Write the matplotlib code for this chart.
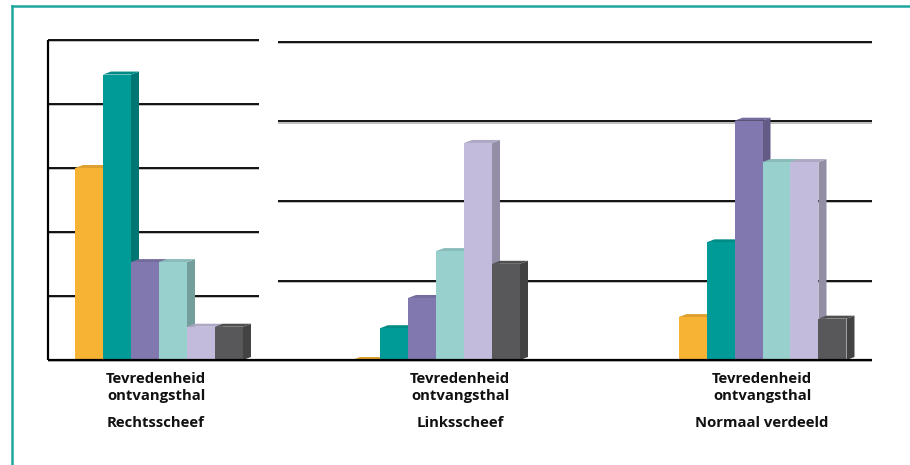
import matplotlib
matplotlib.use("Agg")
import matplotlib.pyplot as plt
from matplotlib.patches import Polygon
from matplotlib.lines import Line2D
import matplotlib.patheffects as pe
import matplotlib.colors as mcolors
import matplotlib.transforms as mtransforms

# ---- data ----------------------------------------------------------------
series_colors = ["#F7B334", "#009B96", "#8278B0", "#97D0CD", "#C2BBDB", "#58585A"]

left_category = "Tevredenheid\nontvangsthal"
left_subtitle = "Rechtsscheef"
left_values = [30.0, 44.6, 15.3, 15.3, 5.2, 5.2]

right_categories = ["Tevredenheid\nontvangsthal", "Tevredenheid\nontvangsthal"]
right_subtitles = ["Linksscheef", "Normaal verdeeld"]
linksscheef_values = [0.0, 4.0, 7.8, 13.7, 27.3, 12.1]
normaal_values = [5.4, 14.8, 30.1, 24.9, 24.9, 5.2]

left_ticks = [0, 10, 20, 30, 40, 50]
right_ticks = [0, 10, 20, 30, 40]

# ---- layout --------------------------------------------------------------
W, H = 910, 465
DPI = 100
PX_PER_UNIT = 326.5          # horizontal pixels per category step
GROUP_W = 0.5145             # width of one group of six bars (data units)
BAR_W = GROUP_W / 6
DEPTH_DX, DEPTH_DY = 8, 3    # 3-D depth offset in pixels

fig = plt.figure(figsize=(W / DPI, H / DPI), dpi=DPI)
fig.patch.set_facecolor("white")


def px_axes(x0, y0, x1, y1):
    """Axes box given in pixel coordinates measured from top-left."""
    return fig.add_axes([x0 / W, (H - y1) / H, (x1 - x0) / W, (y1 - y0) / H])


def shade(c, f):
    r, g, b = mcolors.to_rgb(c)
    return (r * f, g * f, b * f)


def draw_group(ax, center, values, ymax, ax_h_px, z0=3):
    dx = DEPTH_DX / PX_PER_UNIT
    dy = DEPTH_DY * ymax / ax_h_px
    start = center - GROUP_W / 2
    z = z0
    for i, (v, c) in enumerate(zip(values, series_colors)):
        x0 = start + i * BAR_W
        x1 = x0 + BAR_W
        side = Polygon([(x1, 0), (x1 + dx, dy), (x1 + dx, v + dy), (x1, v)],
                       closed=True, facecolor=shade(c, 0.76), edgecolor="none",
                       zorder=z)
        top = Polygon([(x0, v), (x0 + dx, v + dy), (x1 + dx, v + dy), (x1, v)],
                      closed=True, facecolor=shade(c, 0.9), edgecolor="none",
                      zorder=z)
        ax.add_patch(side)
        ax.add_patch(top)
        ax.bar([x0], [v], width=BAR_W, align="edge", color=c,
               edgecolor="none", zorder=z + 0.5)
        z += 1


grid_fx = [pe.SimpleLineShadow(offset=(0, -1.0), shadow_color="#a8a8a8",
                               alpha=0.8, linewidth=1.3), pe.Normal()]


def style_axes(ax):
    ax.set_facecolor("none")
    for s in ax.spines.values():
        s.set_visible(False)
    ax.set_xticks([])
    ax.set_yticks([])


label_font = dict(family=["Open Sans", "DejaVu Sans"], fontweight="bold",
                  fontsize=10.7, color="#111111")


def put_labels(ax, x, cat, sub):
    tr = mtransforms.blended_transform_factory(ax.transData, fig.transFigure)
    lines = cat.split("\n")
    ax.text(x, 1 - 383 / H, lines[0], transform=tr, ha="center",
            va="baseline", clip_on=False, **label_font)
    ax.text(x, 1 - 399.5 / H, lines[1], transform=tr, ha="center",
            va="baseline", clip_on=False, **label_font)
    ax.text(x, 1 - 427 / H, sub, transform=tr, ha="center",
            va="baseline", clip_on=False, **label_font)


GRID_LW = 1.3

# ---- left chart ------------------------------------------------------------
axL = px_axes(48, 40, 278, 360)
style_axes(axL)
L_center_px = 159
axL.set_xlim(-(L_center_px - 48) / PX_PER_UNIT, (278 - L_center_px) / PX_PER_UNIT)
axL.set_ylim(left_ticks[0], left_ticks[-1])
grid_end = (259 - L_center_px) / PX_PER_UNIT
for t in left_ticks[1:]:
    axL.plot([axL.get_xlim()[0], grid_end], [t, t], color="black", lw=GRID_LW,
             solid_capstyle="butt", zorder=1, clip_on=False, path_effects=grid_fx)
axL.plot([axL.get_xlim()[0], axL.get_xlim()[1]], [0, 0], color="black", lw=1.6,
         solid_capstyle="butt", zorder=20, clip_on=False, path_effects=grid_fx)
axL.plot([axL.get_xlim()[0]] * 2, [0, left_ticks[-1]], color="black", lw=1.6,
         solid_capstyle="butt", zorder=20, clip_on=False)
draw_group(axL, 0.0, left_values, left_ticks[-1], 320)
put_labels(axL, (156 - L_center_px) / PX_PER_UNIT, left_category, left_subtitle)

# ---- right chart -----------------------------------------------------------
axR = px_axes(278, 42, 872, 360)
style_axes(axR)
R_center_px = 436
axR.set_xlim(-(R_center_px - 278) / PX_PER_UNIT,
             1 + (872 - (R_center_px + PX_PER_UNIT)) / PX_PER_UNIT)
axR.set_ylim(right_ticks[0], right_ticks[-1])
for t in right_ticks[1:]:
    axR.plot(axR.get_xlim(), [t, t], color="black", lw=GRID_LW,
             solid_capstyle="butt", zorder=1, clip_on=False, path_effects=grid_fx)
axR.plot(axR.get_xlim(), [0, 0], color="black", lw=1.6,
         solid_capstyle="butt", zorder=20, clip_on=False, path_effects=grid_fx)
draw_group(axR, 0.0, linksscheef_values, right_ticks[-1], 318)
draw_group(axR, 1.0, normaal_values, right_ticks[-1], 318)
label_x = [(460 - R_center_px) / PX_PER_UNIT, 1 + (762 - R_center_px - PX_PER_UNIT) / PX_PER_UNIT]
for x, cat, sub in zip(label_x, right_categories, right_subtitles):
    put_labels(axR, x, cat, sub)

# ---- frame -----------------------------------------------------------------
frame_c = "#1FA6A1"
fig.add_artist(Line2D([12 / W, 1], [1 - 6.5 / H] * 2, color=frame_c, lw=1.8,
                      transform=fig.transFigure))
fig.add_artist(Line2D([12 / W] * 2, [0, 1 - 6.5 / H], color=frame_c, lw=1.8,
                      transform=fig.transFigure))

fig.savefig("out.png", dpi=DPI, facecolor="white")
